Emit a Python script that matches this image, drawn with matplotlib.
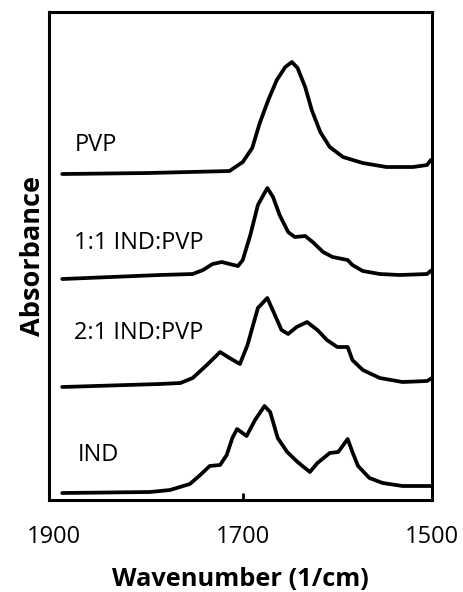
import matplotlib
matplotlib.use("Agg")
import matplotlib.pyplot as plt

# espectros FTIR (absorbancia desplazada, unidades arbitrarias)
pvp_wn = [1891, 1800, 1714, 1700, 1690, 1682, 1673, 1664, 1655, 1648, 1642, 1634,
          1627, 1618, 1608, 1594, 1573, 1548, 1520, 1505, 1501]
pvp_abs = [3.26, 3.27, 3.29, 3.38, 3.52, 3.77, 4.00, 4.20, 4.33, 4.38, 4.32, 4.13,
           3.90, 3.68, 3.53, 3.43, 3.37, 3.33, 3.33, 3.35, 3.40]

r11_wn = [1891, 1788, 1753, 1742, 1732, 1722, 1714, 1705, 1700, 1692, 1684, 1674,
          1668, 1661, 1652, 1645, 1634, 1626, 1615, 1605, 1589, 1584, 1573, 1555,
          1534, 1505, 1500]
r11_abs = [2.21, 2.25, 2.26, 2.30, 2.36, 2.38, 2.36, 2.34, 2.40, 2.65, 2.95, 3.12,
           3.03, 2.85, 2.68, 2.63, 2.64, 2.58, 2.48, 2.43, 2.40, 2.35, 2.29, 2.26,
           2.25, 2.26, 2.30]

r21_wn = [1891, 1788, 1766, 1753, 1738, 1724, 1714, 1703, 1695, 1684, 1674, 1666,
          1659, 1652, 1643, 1632, 1621, 1611, 1600, 1589, 1584, 1573, 1555, 1531,
          1505, 1500]
r21_abs = [1.13, 1.16, 1.17, 1.22, 1.35, 1.48, 1.42, 1.36, 1.55, 1.92, 2.02, 1.85,
           1.70, 1.66, 1.73, 1.78, 1.70, 1.60, 1.53, 1.53, 1.40, 1.30, 1.22, 1.18,
           1.19, 1.22]

ind_wn = [1891, 1798, 1777, 1756, 1745, 1735, 1724, 1717, 1711, 1706, 1696, 1687,
          1677, 1671, 1663, 1653, 1642, 1629, 1621, 1608, 1599, 1589, 1584, 1578,
          1566, 1552, 1531, 1502, 1500]
ind_abs = [0.07, 0.08, 0.10, 0.16, 0.25, 0.34, 0.35, 0.45, 0.62, 0.71, 0.64, 0.80,
           0.94, 0.88, 0.62, 0.48, 0.38, 0.28, 0.37, 0.47, 0.48, 0.61, 0.48, 0.34,
           0.22, 0.17, 0.14, 0.14, 0.14]

labels = ["PVP", "1:1 IND:PVP", "2:1 IND:PVP", "IND"]
xticks = [1900, 1700, 1500]

FONT = "Open Sans"

fig = plt.figure(figsize=(4.64, 5.92), dpi=100)
ax = fig.add_axes([0.1056, 0.1554, 0.8250, 0.8243])

series = [(pvp_wn, pvp_abs), (r11_wn, r11_abs), (r21_wn, r21_abs), (ind_wn, ind_abs)]
for wn, ab in series:
    ax.plot(wn, ab, color="black", lw=2.7, solid_joinstyle="round",
            solid_capstyle="round")

ax.set_xlim(1905, 1500)
ax.set_ylim(0, 4.88)
ax.set_yticks([])
ax.set_xticks(xticks)
ax.set_xticklabels([str(t) for t in xticks], fontsize=17, family=FONT)
ax.tick_params(axis="x", direction="in", length=5, width=2, pad=18)
ax.xaxis.get_major_ticks()[0].tick1line.set_visible(False)

for sp in ax.spines.values():
    sp.set_linewidth(2.2)

# etiquetas de cada espectro
label_pos = [(0.068, 0.727), (0.065, 0.527), (0.065, 0.342), (0.076, 0.092)]
for txt, (lx, ly) in zip(labels, label_pos):
    ax.text(lx, ly, txt, transform=ax.transAxes, ha="left", va="center",
            fontsize=17, family=FONT)

ax.set_xlabel("Wavenumber (1/cm)", fontsize=18.3, fontweight="bold", family=FONT,
              labelpad=13)
ax.set_ylabel("Absorbance", fontsize=19.5, fontweight="bold", family=FONT,
              labelpad=2)

fig.savefig("out.png", dpi=100, facecolor="white")
plt.close(fig)
